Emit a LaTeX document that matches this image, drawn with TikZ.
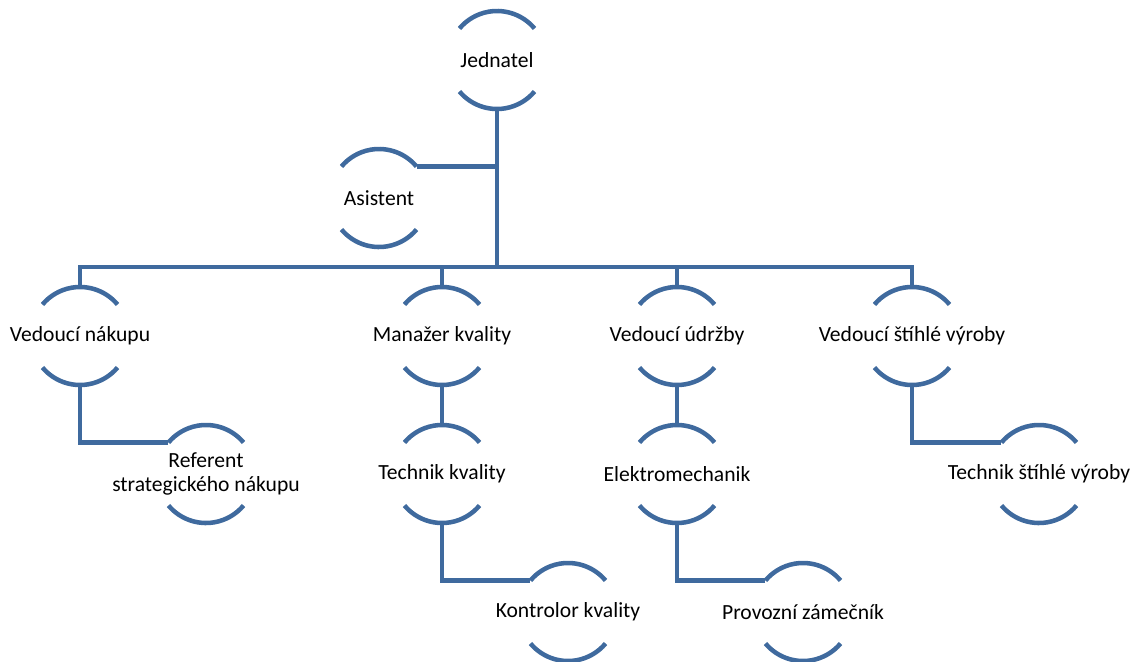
\documentclass[tikz,border=0pt]{standalone}
\usepackage{fontspec}
\setmainfont{Carlito}
\usepackage{xcolor}
\definecolor{orgblue}{HTML}{3F6A9E}
\tikzstyle{link} = [orgblue,line width=3.4pt]

\begin{document}
\begin{tikzpicture}
        [
            x=0.75pt, y=0.75pt,
            role/.style={circle,minimum size=73.5pt,inner sep=0pt,outer sep=0pt},
            roletext/.style={align=center,font=\fontsize{16.2}{18.2}\selectfont},
        ]
    \useasboundingbox (0,0) rectangle (1136,-661);

    \foreach \nm/\x/\y/\txt in {jednatel/497/60/Jednatel, asistent/379/198/Asistent,
        nakup/80/336/Vedoucí nákupu, kvalita/442/336/Manažer kvality,
        udrzba/677/336/Vedoucí údržby, stihla/912/336/Vedoucí štíhlé výroby,
        referent/206/474/Referent\\strategického nákupu, technik/442/474/Technik kvality,
        elektro/677/474/Elektromechanik, stihlatech/1039/474/Technik štíhlé výroby,
        kontrolor/568/612/Kontrolor kvality, zamecnik/803/612/Provozní zámečník}{
        \node[role] (\nm) at (\x,-\y){};
        \node[roletext] at (\x,-\y){\txt};
        \draw[link] (\nm.40) arc[start angle=40,end angle=140,radius=36.75pt];
        \draw[link] (\nm.220) arc[start angle=220,end angle=320,radius=36.75pt];
    }

    \coordinate (bus) at (0,-267);
    \draw[link] (jednatel.south) -- (jednatel.south |- bus);
    \draw[link] (asistent.40) -- (asistent.40 -| jednatel.south);
    \draw[link] (nakup.north) -- (nakup.north |- bus) -- (stihla.north |- bus) -- (stihla.north);
    \foreach \nm in {kvalita,udrzba}
        \draw[link] (\nm.north) -- (\nm.north |- bus);
    \draw[link] (kvalita.south) -- (technik.north);
    \draw[link] (udrzba.south) -- (elektro.north);
    \draw[link] (nakup.south) |- (referent.140);
    \draw[link] (technik.south) |- (kontrolor.140);
    \draw[link] (elektro.south) |- (zamecnik.140);
    \draw[link] (stihla.south) |- (stihlatech.140);
\end{tikzpicture}
\end{document}
